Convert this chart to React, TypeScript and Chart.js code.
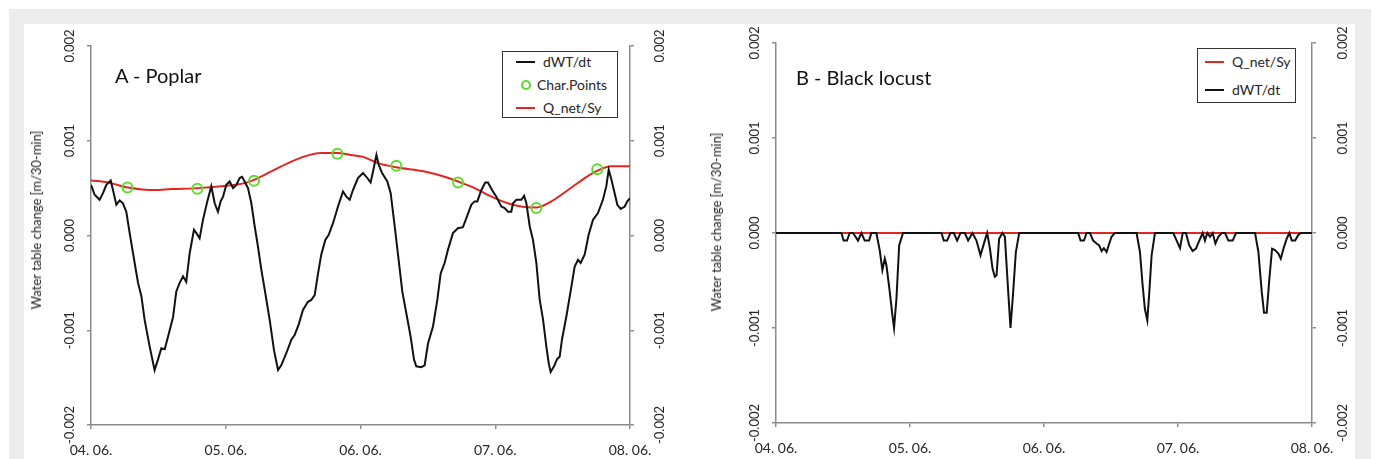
import React, { useEffect, useRef } from "react";
import { Chart, registerables } from "chart.js";

Chart.register(...registerables);

// ---------- shared ----------
const dateLabels = ["04. 06.", "05. 06.", "06. 06.", "07. 06.", "08. 06."];
const yAxisTitle = "Water table change [m/30-min]";

// ---------- Panel A – Poplar (values in mm/30-min, converted to m for plotting) ----------
const poplarDays = [
  0.0, 0.027, 0.064, 0.089, 0.114, 0.146, 0.163, 0.188, 0.213, 0.237, 0.262, 0.287, 0.324, 0.349, 0.374, 0.398,
  0.435, 0.472, 0.497, 0.522, 0.547, 0.571, 0.609, 0.633, 0.658, 0.683, 0.707, 0.732, 0.764, 0.782, 0.806, 0.831,
  0.863, 0.893, 0.918, 0.942, 0.962, 0.98, 1.004, 1.029, 1.054, 1.079, 1.103, 1.121, 1.14, 1.165, 1.19, 1.215,
  1.239, 1.264, 1.289, 1.326, 1.358, 1.388, 1.412, 1.45, 1.487, 1.511, 1.541, 1.573, 1.61, 1.635, 1.66, 1.685,
  1.709, 1.739, 1.764, 1.796, 1.833, 1.87, 1.895, 1.92, 1.944, 1.981, 2.019, 2.043, 2.075, 2.093, 2.118, 2.135,
  2.16, 2.199, 2.224, 2.254, 2.283, 2.31, 2.34, 2.372, 2.397, 2.414, 2.451, 2.476, 2.501, 2.538, 2.57, 2.595,
  2.624, 2.649, 2.686, 2.723, 2.76, 2.785, 2.822, 2.847, 2.867, 2.897, 2.926, 2.946, 2.976, 3.008, 3.045, 3.07,
  3.095, 3.119, 3.132, 3.157, 3.194, 3.214, 3.231, 3.256, 3.28, 3.305, 3.33, 3.355, 3.379, 3.397, 3.411, 3.436,
  3.461, 3.478, 3.495, 3.527, 3.565, 3.589, 3.614, 3.634, 3.664, 3.693, 3.725, 3.762, 3.799, 3.824, 3.842, 3.862,
  3.886, 3.906, 3.931, 3.961, 3.98, 4.0,
];
const poplarDwtMm = [
  0.535, 0.43, 0.377, 0.447, 0.535, 0.58, 0.48, 0.324, 0.37, 0.34, 0.25, 0.025, -0.29, -0.5, -0.64, -0.89,
  -1.17, -1.42, -1.31, -1.19, -1.2, -1.07, -0.86, -0.59, -0.5, -0.43, -0.49, -0.19, 0.06, 0.025, -0.03, 0.165,
  0.36, 0.52, 0.34, 0.25, 0.36, 0.41, 0.535, 0.57, 0.5, 0.535, 0.606, 0.62, 0.57, 0.5, 0.34, 0.095,
  -0.116, -0.36, -0.57, -0.89, -1.21, -1.42, -1.37, -1.24, -1.1, -1.05, -0.94, -0.785, -0.7, -0.68, -0.63, -0.4,
  -0.2, -0.046, 0.007, 0.13, 0.306, 0.465, 0.41, 0.377, 0.48, 0.606, 0.66, 0.62, 0.56, 0.676, 0.85, 0.746,
  0.66, 0.57, 0.447, 0.095, -0.257, -0.59, -0.82, -1.067, -1.31, -1.38, -1.39, -1.37, -1.14, -0.96, -0.68, -0.4,
  -0.29, -0.15, 0.025, 0.077, 0.088, 0.18, 0.324, 0.36, 0.36, 0.48, 0.56, 0.56, 0.48, 0.41, 0.306, 0.29,
  0.25, 0.25, 0.34, 0.377, 0.377, 0.42, 0.34, 0.095, -0.046, -0.29, -0.68, -0.89, -1.17, -1.35, -1.44, -1.38,
  -1.3, -1.28, -1.1, -0.86, -0.54, -0.33, -0.257, -0.29, -0.2, 0.007, 0.165, 0.236, 0.377, 0.518, 0.694, 0.59,
  0.447, 0.324, 0.28, 0.306, 0.36, 0.394,
];
const poplarQDays = [
  0.0, 0.126, 0.275, 0.472, 0.596, 0.794, 0.967, 1.14, 1.215, 1.338, 1.462, 1.586, 1.709, 1.828, 1.932, 2.019,
  2.13, 2.266, 2.476, 2.624, 2.723, 2.847, 2.971, 3.095, 3.218, 3.305, 3.417, 3.54, 3.664, 3.762, 3.862, 4.0,
];
const poplarQMm = [
  0.58, 0.56, 0.507, 0.48, 0.49, 0.5, 0.52, 0.553, 0.59, 0.676, 0.764, 0.835, 0.87, 0.87, 0.85, 0.83,
  0.764, 0.72, 0.676, 0.62, 0.57, 0.5, 0.41, 0.34, 0.3, 0.296, 0.36, 0.48, 0.606, 0.687, 0.73, 0.73,
];
const charPointDays = [0.27, 0.789, 1.21, 1.828, 2.266, 2.724, 3.305, 3.757];
const charPointMm = [0.507, 0.493, 0.577, 0.863, 0.736, 0.56, 0.289, 0.7];

// ---------- Panel B – Black locust ----------
const locustDays = [
  0.0, 0.488, 0.505, 0.53, 0.55, 0.575, 0.612, 0.637, 0.662, 0.695, 0.712, 0.749, 0.774, 0.794, 0.812, 0.824,
  0.849, 0.869, 0.881, 0.899, 0.919, 0.948, 1.235, 1.252, 1.277, 1.302, 1.327, 1.352, 1.377, 1.409, 1.434, 1.466,
  1.496, 1.526, 1.558, 1.576, 1.596, 1.616, 1.633, 1.646, 1.665, 1.69, 1.708, 1.733, 1.75, 1.77, 1.79, 1.815,
  2.255, 2.273, 2.298, 2.318, 2.343, 2.367, 2.392, 2.412, 2.43, 2.447, 2.467, 2.487, 2.504, 2.529, 2.691, 2.716,
  2.736, 2.753, 2.771, 2.786, 2.803, 2.828, 2.965, 2.99, 3.015, 3.035, 3.059, 3.084, 3.109, 3.134, 3.159, 3.184,
  3.201, 3.219, 3.239, 3.259, 3.279, 3.301, 3.326, 3.351, 3.376, 3.408, 3.433, 3.575, 3.6, 3.625, 3.642, 3.662,
  3.682, 3.702, 3.724, 3.749, 3.767, 3.787, 3.811, 3.831, 3.849, 3.874, 3.898, 3.916, 4.0,
];
const locustDwtMm = [
  0, 0, -0.08, -0.08, 0, 0, -0.08, 0, -0.08, -0.08, 0, 0, -0.18, -0.39, -0.27, -0.34,
  -0.62, -0.87, -1.0, -0.69, -0.13, 0, 0, -0.08, -0.08, 0, 0, -0.08, 0, 0, -0.08, 0,
  -0.08, -0.235, -0.08, 0, -0.16, -0.375, -0.46, -0.445, -0.06, 0, -0.04, -0.62, -1.0, -0.62, -0.2, 0,
  0, -0.08, -0.08, 0, 0, -0.08, -0.11, -0.13, -0.19, -0.16, -0.2, -0.11, -0.04, 0, 0, -0.2,
  -0.55, -0.8, -0.92, -0.62, -0.235, 0, 0, -0.08, -0.16, 0, 0, -0.13, -0.19, -0.165, -0.08, 0,
  -0.08, 0, -0.04, 0, -0.11, -0.04, 0, 0, -0.08, -0.08, 0, 0, -0.2, -0.62, -0.84, -0.84,
  -0.48, -0.165, -0.18, -0.216, -0.27, -0.165, -0.06, 0, -0.08, -0.08, -0.02, 0, 0,
];
const locustQDays = [0, 4];
const locustQMm = [0, 0];

// ---------- styling ----------
const FONT = "Lato, 'Open Sans', 'DejaVu Sans', sans-serif";
const TEXT = "#262626";
const AXIS = "#8c8c8c";
const BLACK = "#111111";
const RED = "#e52420";
const GREEN = "#5cdc2c";

const toPoints = (xs: number[], ysMm: number[]) => xs.map((x, i) => ({ x, y: ysMm[i] / 1000 }));

const fmtY = (v: any) => {
  const n = Number(v);
  if (Math.abs(n) < 1e-9) return "0.000";
  return n.toFixed(3);
};

type Geom = { top: number; left: number; right: number; xh: number; lpad: number; rpad: number };

function makeOptions(g: Geom): any {
  const yCommon = (pos: "left" | "right", width: number, pad: number) => ({
    type: "linear",
    position: pos,
    min: -0.002,
    max: 0.002,
    afterFit: (s: any) => {
      s.width = width;
    },
    ticks: {
      stepSize: 0.001,
      minRotation: 90,
      maxRotation: 90,
      crossAlign: "center",
      padding: pad,
      color: TEXT,
      font: { family: FONT, size: 13 },
      callback: fmtY,
    },
    grid: { drawOnChartArea: false, color: AXIS, tickLength: 4, lineWidth: 1.5 },
    border: { color: AXIS, width: 1.5 },
  });
  return {
    responsive: false,
    maintainAspectRatio: false,
    animation: false,
    devicePixelRatio: 1,
    layout: { padding: { top: g.top, left: 0, right: 0, bottom: 0 } },
    plugins: { legend: { display: false }, tooltip: { enabled: false } },
    scales: {
      x: {
        type: "linear",
        min: 0,
        max: 4,
        afterFit: (s: any) => {
          s.height = g.xh;
        },
        ticks: {
          stepSize: 1,
          autoSkip: false,
          maxRotation: 0,
          minRotation: 0,
          padding: 13,
          color: TEXT,
          font: { family: FONT, size: 14 },
          callback: (v: any) => dateLabels[Math.round(Number(v))] ?? "",
        },
        grid: { drawOnChartArea: false, color: AXIS, tickLength: 4, lineWidth: 1.5 },
        border: { color: AXIS, width: 1.5 },
      },
      y: yCommon("left", g.left, g.lpad),
      y2: yCommon("right", g.right, g.rpad),
    },
  };
}

function PanelChart({ datasets, geom, width, height }: { datasets: any[]; geom: Geom; width: number; height: number }) {
  const ref = useRef<HTMLCanvasElement | null>(null);
  useEffect(() => {
    if (!ref.current) return;
    const chart = new Chart(ref.current, {
      type: "line",
      data: { datasets },
      options: makeOptions(geom),
    } as any);
    return () => chart.destroy();
  }, []);
  return <canvas ref={ref} width={width} height={height} style={{ display: "block", width, height }} />;
}

const abs = (left: number, top: number, extra: any = {}) => ({ position: "absolute" as const, left, top, ...extra });

function LineSample({ x1, x2, y, color }: { x1: number; x2: number; y: number; color: string }) {
  return <div style={abs(x1, y - 1, { width: x2 - x1, height: 2, background: color })} />;
}

function LegendText({ x, y, text }: { x: number; y: number; text: string }) {
  return (
    <div style={abs(x, y - 9, { fontSize: 14, lineHeight: "18px", color: TEXT, whiteSpace: "nowrap" })}>{text}</div>
  );
}

function YTitle({ cx, cy }: { cx: number; cy: number }) {
  return (
    <div
      style={abs(cx, cy, {
        transform: "translate(-50%, -50%) rotate(-90deg)",
        fontSize: 13,
        lineHeight: "16px",
        color: TEXT,
        whiteSpace: "nowrap",
      })}
    >
      {yAxisTitle}
    </div>
  );
}

export default function App() {
  const datasetsA = [
    {
      label: "Char.Points",
      data: toPoints(charPointDays, charPointMm),
      showLine: false,
      pointRadius: 5,
      pointBorderWidth: 2,
      pointBorderColor: GREEN,
      pointBackgroundColor: "rgba(0,0,0,0)",
      order: 0,
    },
    {
      label: "dWT/dt",
      data: toPoints(poplarDays, poplarDwtMm),
      borderColor: BLACK,
      borderWidth: 2,
      pointRadius: 0,
      tension: 0,
      order: 1,
    },
    {
      label: "Q_net/Sy",
      data: toPoints(poplarQDays, poplarQMm),
      borderColor: RED,
      borderWidth: 2,
      pointRadius: 0,
      cubicInterpolationMode: "monotone",
      order: 2,
    },
  ];
  const datasetsB = [
    {
      label: "Q_net/Sy",
      data: toPoints(locustQDays, locustQMm),
      borderColor: RED,
      borderWidth: 2,
      pointRadius: 0,
      order: 1,
    },
    {
      label: "dWT/dt",
      data: toPoints(locustDays, locustDwtMm),
      borderColor: BLACK,
      borderWidth: 2,
      pointRadius: 0,
      tension: 0,
      order: 0,
    },
  ];

  return (
    <div
      style={{
        position: "absolute",
        left: 0,
        top: 0,
        width: 1377,
        height: 459,
        background: "#ffffff",
        overflow: "hidden",
        fontFamily: FONT,
      }}
    >
      <div style={abs(9, 9, { width: 1362, height: 460, background: "#ececec" })} />
      <div style={abs(24, 24, { width: 1331, height: 440, background: "#ffffff" })} />

      <div style={abs(24, 24)}>
        <PanelChart
          datasets={datasetsA}
          geom={{ top: 22, left: 67, right: 60, xh: 34, lpad: -2, rpad: 7 }}
          width={666}
          height={435}
        />
      </div>
      <div style={abs(690, 24)}>
        <PanelChart
          datasets={datasetsB}
          geom={{ top: 19, left: 86, right: 43, xh: 36, lpad: -2, rpad: 8 }}
          width={665}
          height={435}
        />
      </div>

      {/* Panel A annotations */}
      <div style={abs(115, 63, { fontSize: 20, lineHeight: "24px", color: "#111", whiteSpace: "nowrap" })}>A - Poplar</div>
      <YTitle cx={36} cy={220} />
      <div style={abs(502, 51, { width: 114, height: 65, border: "1.5px solid #333", background: "#fff" })} />
      <LineSample x1={516} x2={535} y={61.5} color={BLACK} />
      <LegendText x={543} y={61.5} text="dWT/dt" />
      <div
        style={abs(520.5, 80, {
          width: 6,
          height: 6,
          borderRadius: "50%",
          border: `2px solid ${GREEN}`,
        })}
      />
      <LegendText x={537} y={84.5} text="Char.Points" />
      <LineSample x1={516} x2={535} y={108} color={RED} />
      <LegendText x={543} y={108} text="Q_net/Sy" />

      {/* Panel B annotations */}
      <div style={abs(796, 65, { fontSize: 20, lineHeight: "24px", color: "#111", whiteSpace: "nowrap" })}>
        B - Black locust
      </div>
      <YTitle cx={716} cy={221.5} />
      <div style={abs(1197, 48, { width: 97, height: 53, border: "1.5px solid #333", background: "#fff" })} />
      <LineSample x1={1205} x2={1224} y={61.5} color={RED} />
      <LegendText x={1232} y={61.5} text="Q_net/Sy" />
      <LineSample x1={1205} x2={1224} y={90} color={BLACK} />
      <LegendText x={1232} y={90} text="dWT/dt" />
    </div>
  );
}
